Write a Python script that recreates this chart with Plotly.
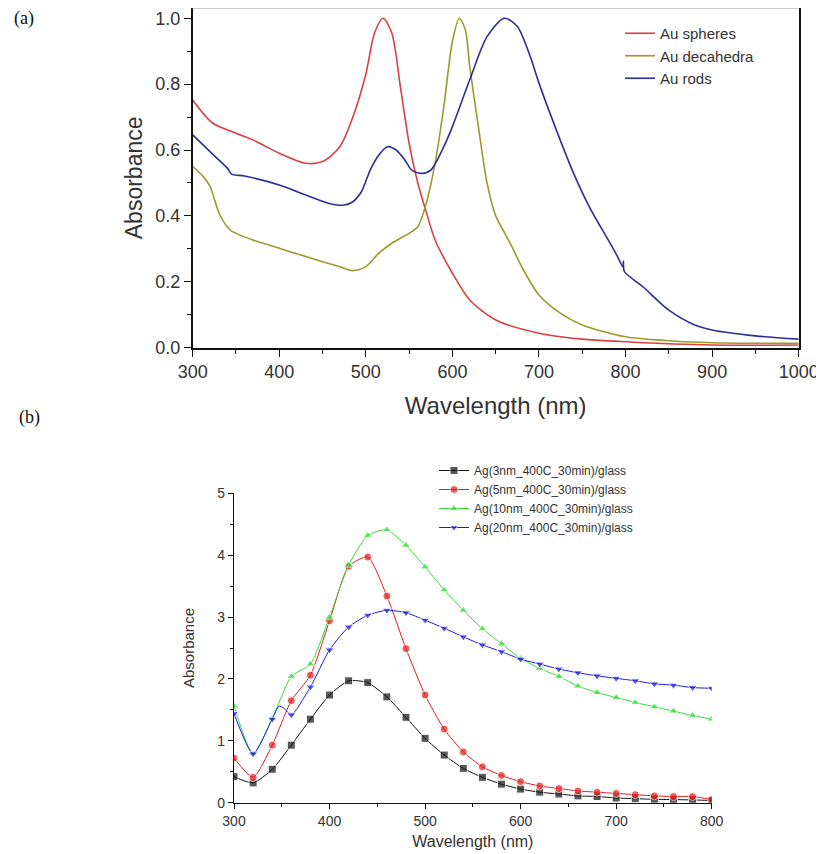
import plotly.graph_objects as go

# ---------------- Panel (a) data ----------------
a_sph_nm = [300, 323, 350, 370, 400, 430, 450, 470, 485, 500, 510, 520, 530, 540, 550,
            560, 570, 580, 600, 620, 650, 700, 750, 800, 900, 1000]
a_sph = [0.752, 0.682, 0.651, 0.630, 0.590, 0.560, 0.565, 0.610, 0.700, 0.830, 0.955, 1.000,
         0.955, 0.790, 0.620, 0.500, 0.410, 0.327, 0.226, 0.145, 0.084, 0.044, 0.026, 0.018,
         0.008, 0.008]

a_dec_nm = [300, 312, 320, 331, 343, 350, 375, 400, 425, 450, 470, 485, 500, 515, 530, 550,
            560, 570, 580, 590, 600, 608, 615, 620, 630, 640, 650, 660, 670, 680, 700, 725,
            750, 800, 850, 900, 1000]
a_dec = [0.550, 0.520, 0.490, 0.405, 0.358, 0.347, 0.322, 0.302, 0.281, 0.261, 0.246, 0.234,
         0.246, 0.287, 0.317, 0.347, 0.367, 0.440, 0.560, 0.730, 0.930, 1.000, 0.964, 0.853,
         0.671, 0.500, 0.400, 0.350, 0.300, 0.246, 0.160, 0.104, 0.069, 0.033, 0.021, 0.015,
         0.013]

a_rod_nm = [300, 320, 340, 345, 360, 400, 430, 460, 475, 485, 495, 505, 515, 525, 535, 545,
            553, 565, 575, 590, 600, 620, 640, 660, 675, 690, 700, 720, 740, 760, 780, 790,
            797, 797.5, 798.5, 810, 820, 850, 880, 900, 950, 1000]
a_rod = [0.646, 0.595, 0.545, 0.527, 0.521, 0.494, 0.464, 0.436, 0.433, 0.443, 0.474, 0.539,
         0.585, 0.610, 0.600, 0.570, 0.539, 0.529, 0.539, 0.610, 0.671, 0.813, 0.944, 1.000,
         0.975, 0.883, 0.803, 0.661, 0.529, 0.418, 0.327, 0.280, 0.245, 0.262, 0.232, 0.205,
         0.185, 0.114, 0.069, 0.054, 0.036, 0.026]

a_names = ["Au spheres", "Au decahedra", "Au rods"]
a_colors = ["#d9403f", "#9c9a2c", "#2b2f99"]

# ---------------- Panel (b) data ----------------
b_nm = [300, 320, 340, 360, 380, 400, 420, 440, 460, 480, 500, 520, 540, 560, 580, 600,
        620, 640, 660, 680, 700, 720, 740, 760, 780, 800]
b_3nm = [0.42, 0.32, 0.54, 0.93, 1.35, 1.74, 1.97, 1.94, 1.71, 1.38, 1.04, 0.77, 0.555, 0.41,
         0.30, 0.22, 0.17, 0.14, 0.11, 0.10, 0.076, 0.065, 0.055, 0.05, 0.045, 0.035]
b_5nm = [0.72, 0.41, 0.93, 1.65, 2.06, 2.94, 3.82, 3.97, 3.34, 2.49, 1.74, 1.19, 0.82, 0.58,
         0.44, 0.34, 0.27, 0.23, 0.19, 0.17, 0.15, 0.13, 0.11, 0.10, 0.10, 0.05]
b_10nm = [1.56, 0.79, 1.36, 2.04, 2.24, 3.00, 3.84, 4.32, 4.41, 4.16, 3.81, 3.44, 3.11, 2.81,
          2.57, 2.33, 2.17, 2.04, 1.885, 1.78, 1.70, 1.62, 1.55, 1.48, 1.41, 1.35]
b_20nm = [1.44, 0.79, 1.35, 1.42, 1.87, 2.47, 2.84, 3.03, 3.11, 3.07, 2.95, 2.82, 2.68, 2.55,
          2.44, 2.32, 2.24, 2.16, 2.10, 2.05, 2.01, 1.97, 1.92, 1.90, 1.86, 1.85]
# small shoulder in the 20 nm curve between the 340 and 360 nm markers
b_20nm_extra_nm = [347, 352]
b_20nm_extra = [1.56, 1.53]

b_names = ["Ag(3nm_400C_30min)/glass", "Ag(5nm_400C_30min)/glass",
           "Ag(10nm_400C_30min)/glass", "Ag(20nm_400C_30min)/glass"]
b_colors = ["#111111", "#e41a1a", "#33dd33", "#1a1ae0"]
b_symbols = ["square", "circle", "triangle-up", "triangle-down"]

# the page body has an 8 px margin; the figure is sized so it ends at the window edge
OFF = 8
W, H = 824 - OFF, 854 - OFF


def px_x(p):
    return (p - OFF) / W


def px_y(p):
    return 1 - (p - OFF) / H


fig = go.Figure()

for xs, ys, name, col in zip([a_sph_nm, a_dec_nm, a_rod_nm], [a_sph, a_dec, a_rod],
                             a_names, a_colors):
    fig.add_trace(go.Scatter(x=xs, y=ys, name=name, mode="lines",
                             line=dict(color=col, width=1.6, shape="spline", smoothing=0.8),
                             xaxis="x", yaxis="y", legend="legend"))

for ys, name, col, sym in zip([b_3nm, b_5nm, b_10nm, b_20nm], b_names, b_colors, b_symbols):
    xs = list(b_nm)
    yv = list(ys)
    sizes = [8] * len(xs)
    if name == b_names[3]:
        pts = sorted(list(zip(xs, yv, sizes)) +
                     [(x, y, 0) for x, y in zip(b_20nm_extra_nm, b_20nm_extra)])
        xs = [p[0] for p in pts]
        yv = [p[1] for p in pts]
        sizes = [p[2] for p in pts]
    fig.add_trace(go.Scatter(x=xs, y=yv, name=name, mode="lines+markers",
                             line=dict(color=col, width=1, shape="spline", smoothing=0.6),
                             marker=dict(symbol=sym, color=col, size=sizes),
                             xaxis="x2", yaxis="y2", legend="legend2"))

font_a = "Liberation Sans, Arial, sans-serif"

ax_common = dict(showgrid=False, zeroline=False, showline=True, linecolor="#111",
                 ticks="outside", tickcolor="#111", automargin=False)

fig.update_layout(
    width=W, height=H,
    margin=dict(l=0, r=0, t=0, b=0, autoexpand=False),
    paper_bgcolor="white", plot_bgcolor="white",
    showlegend=True,
    xaxis=dict(**ax_common, domain=[px_x(192.7), px_x(798.7)], range=[300, 1000],
               tick0=300, dtick=100, ticklen=7, linewidth=1.6, anchor="y",
               minor=dict(ticks="outside", dtick=50, ticklen=4, tickcolor="#111"),
               tickfont=dict(family=font_a, size=18, color="#333"),
               title=dict(text="Wavelength (nm)", standoff=16,
                          font=dict(family=font_a, size=24, color="#333"))),
    yaxis=dict(**ax_common, domain=[px_y(347.7), 1.0], range=[0, 1.031],
               tick0=0, dtick=0.2, tickformat=".1f", ticklen=7, linewidth=1.6,
               mirror=True, anchor="x",
               minor=dict(ticks="outside", dtick=0.1, ticklen=4, tickcolor="#111"),
               tickfont=dict(family=font_a, size=18, color="#333"),
               title=dict(text="Absorbance", standoff=6,
                          font=dict(family=font_a, size=23, color="#333"))),
    xaxis2=dict(**ax_common, domain=[px_x(234), px_x(711.7)], range=[300, 800],
                tick0=300, dtick=100, ticklen=5, linewidth=1.2, anchor="y2",
                minor=dict(ticks="outside", dtick=50, ticklen=3, tickcolor="#111"),
                tickfont=dict(family=font_a, size=14, color="#333"),
                title=dict(text="Wavelength (nm)", standoff=8,
                           font=dict(family=font_a, size=16, color="#333"))),
    yaxis2=dict(**ax_common, domain=[px_y(802.7), px_y(493.3)], range=[0, 5],
                tick0=0, dtick=1, ticklen=5, linewidth=1.2, anchor="x2",
                minor=dict(ticks="outside", dtick=0.5, ticklen=3, tickcolor="#111"),
                tickfont=dict(family=font_a, size=14, color="#333"),
                title=dict(text="Absorbance", standoff=19,
                           font=dict(family=font_a, size=15, color="#333"))),
    legend=dict(x=px_x(620), y=px_y(17), xanchor="left", yanchor="top",
                bgcolor="rgba(0,0,0,0)", font=dict(family=font_a, size=15, color="#333"),
                tracegroupgap=0),
    legend2=dict(x=px_x(434), y=px_y(456), xanchor="left", yanchor="top",
                 bgcolor="rgba(0,0,0,0)", font=dict(family=font_a, size=12, color="#333"),
                 tracegroupgap=0),
    shapes=[dict(type="line", xref="paper", yref="paper", x0=px_x(192.7), x1=px_x(798.7),
                 y0=1.0, y1=1.0, line=dict(color="#bbbbbb", width=1.5))],
    annotations=[
        dict(text="(a)", x=px_x(12), y=px_y(19), xref="paper", yref="paper",
             xanchor="left", yanchor="middle", showarrow=False,
             font=dict(family="Liberation Serif, Times New Roman, serif", size=18, color="#111")),
        dict(text="(b)", x=px_x(17), y=px_y(418), xref="paper", yref="paper",
             xanchor="left", yanchor="middle", showarrow=False,
             font=dict(family="Liberation Serif, Times New Roman, serif", size=18, color="#111")),
    ],
)

fig.write_html("out.html")
